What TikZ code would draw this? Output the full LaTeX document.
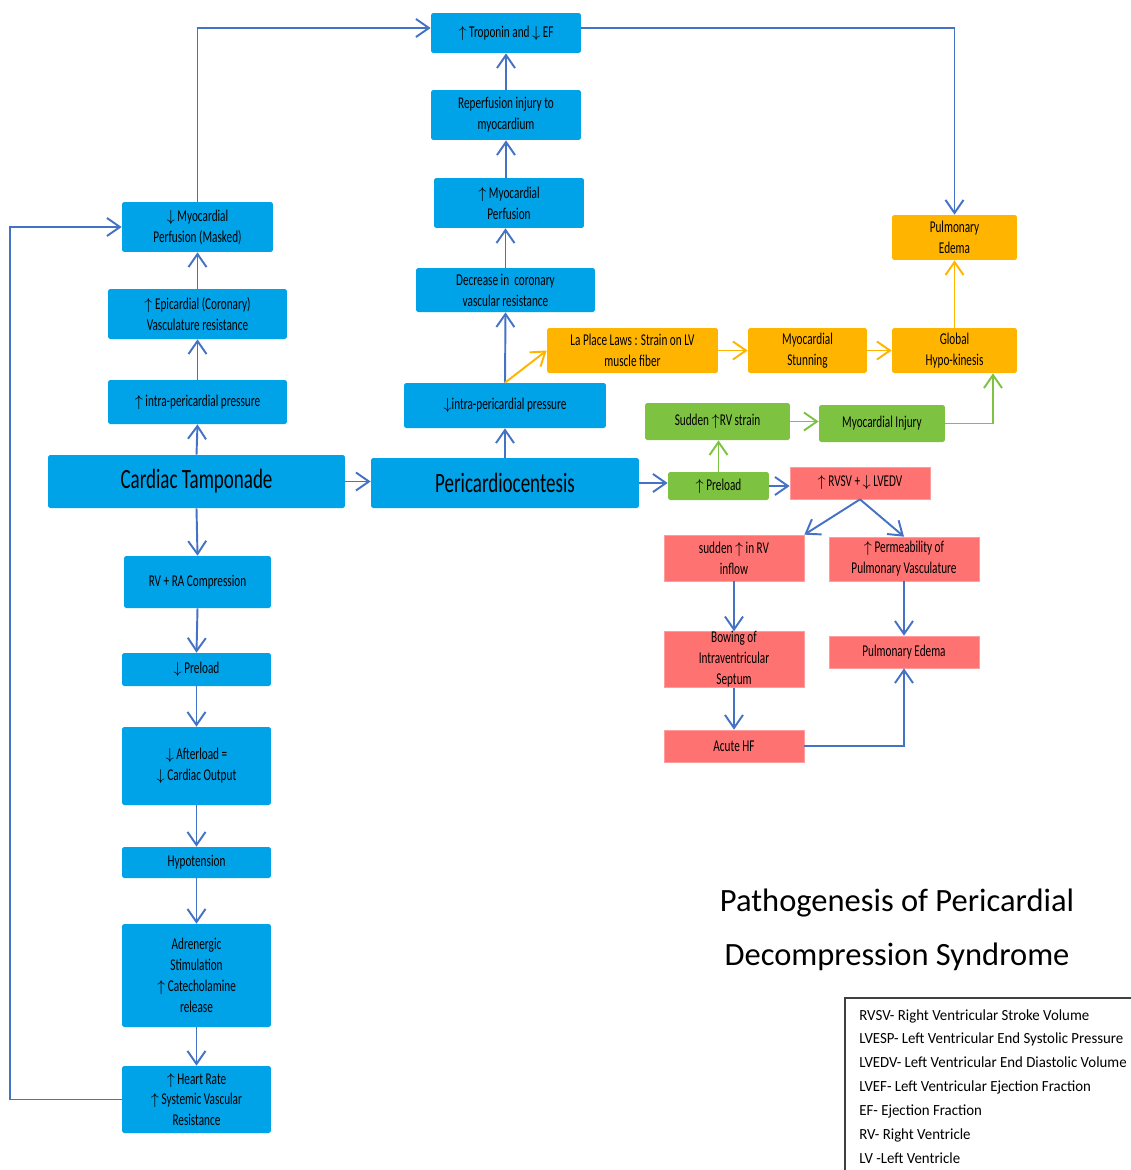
\documentclass[tikz,border=0pt]{standalone}
\usepackage{fontspec}
\setmainfont{Carlito}
\newfontfamily\boxfont{Carlito}[FakeStretch=0.68]
\newfontfamily\keyfont{Carlito}[FakeStretch=0.96]
\usepackage{xcolor}
\usepackage{tikz}
\usetikzlibrary{arrows.meta,positioning,calc}

\definecolor{boxblue}{RGB}{0,162,232}
\definecolor{boxorange}{RGB}{255,180,0}
\definecolor{boxgreen}{RGB}{125,195,65}
\definecolor{boxred}{RGB}{255,114,114}
\definecolor{arrowblue}{RGB}{68,114,196}

\begin{document}
\begin{tikzpicture}[x=0.02cm, y=-0.02cm,
  every node/.style={font=\boxfont\fontsize{9.4}{11.9}\selectfont, align=center, inner sep=0pt},
  bbox/.style={rectangle, rounded corners=1pt, fill=boxblue},
  obox/.style={rectangle, rounded corners=1pt, fill=boxorange},
  gbox/.style={rectangle, rounded corners=1pt, fill=boxgreen},
  rbox/.style={rectangle, fill=boxred, draw=boxred!70!white, line width=0.4pt},
  flow/.style={draw=arrowblue, line width=1.1pt, -{Straight Barb[length=2.6mm,width=3.6mm]}},
  oflow/.style={flow, draw=boxorange},
  gflow/.style={flow, draw=boxgreen}]
\useasboundingbox (0,0) rectangle (1131,1170);

% Left: tamponade column
\node[bbox, minimum width=5.94cm, minimum height=1.06cm, font=\boxfont\fontsize{15.9}{19}\selectfont] (tamp) at (196.5,481.5) {Cardiac Tamponade};
\node[bbox, minimum width=3.58cm, minimum height=0.88cm] (incipp) at (197.5,402) {$\uparrow$ intra-pericardial pressure};
\node[bbox, minimum width=3.58cm, minimum height=1.0cm] (epic) at (197.5,314) {$\uparrow$ Epicardial (Coronary)\\Vasculature resistance};
\node[bbox, minimum width=3.02cm, minimum height=1.0cm] (masked) at (197.5,227) {$\downarrow$ Myocardial\\Perfusion (Masked)};
\node[bbox, minimum width=2.94cm, minimum height=1.04cm] (rvra) at (197.5,582) {RV + RA Compression};
\node[bbox, minimum width=2.98cm, minimum height=0.66cm] (lpre) at (196.5,669.5) {$\downarrow$ Preload};
\node[bbox, minimum width=2.98cm, minimum height=1.56cm] (aftl) at (196.5,766) {$\downarrow$ Afterload =\\$\downarrow$ Cardiac Output};
\node[bbox, minimum width=2.98cm, minimum height=0.62cm] (hypo) at (196.5,862.5) {Hypotension};
\node[bbox, minimum width=2.98cm, minimum height=2.06cm] (adren) at (196.5,975.5) {Adrenergic\\Stimulation\\$\uparrow$ Catecholamine\\release};
\node[bbox, minimum width=2.98cm, minimum height=1.34cm] (hrate) at (196.5,1099.5) {$\uparrow$ Heart Rate\\$\uparrow$ Systemic Vascular\\Resistance};

% Middle: pericardiocentesis column
\node[bbox, minimum width=5.36cm, minimum height=1.0cm, font=\boxfont\fontsize{15.9}{19}\selectfont] (pcent) at (505,483) {Pericardiocentesis};
\node[bbox, minimum width=4.04cm, minimum height=0.9cm] (decipp) at (505,405.5) {$\downarrow$intra-pericardial pressure};
\node[bbox, minimum width=3.58cm, minimum height=0.88cm] (coron) at (505.5,290) {Decrease in\ \ coronary\\vascular resistance};
\node[bbox, minimum width=3.0cm, minimum height=1.0cm] (incmp) at (509,203) {$\uparrow$ Myocardial\\Perfusion};
\node[bbox, minimum width=3.0cm, minimum height=1.0cm] (reperf) at (506,115) {Reperfusion injury to\\myocardium};
\node[bbox, minimum width=3.0cm, minimum height=0.8cm] (trop) at (506,33) {$\uparrow$ Troponin and $\downarrow$ EF};

% Right: orange and green chains
\node[obox, minimum width=3.42cm, minimum height=0.9cm] (laplace) at (632.5,350.5) {La Place Laws : Strain on LV\\muscle fiber};
\node[obox, minimum width=2.38cm, minimum height=0.9cm] (stun) at (807.5,350.5) {Myocardial\\Stunning};
\node[obox, minimum width=2.5cm, minimum height=0.9cm] (hypok) at (954.5,350.5) {Global\\Hypo-kinesis};
\node[obox, minimum width=2.5cm, minimum height=0.9cm] (pedemo) at (954.5,237.5) {Pulmonary\\Edema};
\node[gbox, minimum width=2.9cm, minimum height=0.74cm] (rvstr) at (717.5,421.5) {Sudden $\uparrow$RV strain};
\node[gbox, minimum width=2.52cm, minimum height=0.74cm] (myoinj) at (882,423.5) {Myocardial Injury};
\node[gbox, minimum width=2.02cm, minimum height=0.56cm] (hpre) at (718.5,486) {$\uparrow$ Preload};

% Right: red chain
\node[rbox, minimum width=2.8cm, minimum height=0.64cm] (rvsv) at (860,483) {$\uparrow$ RVSV + $\downarrow$ LVEDV};
\node[rbox, minimum width=2.8cm, minimum height=0.92cm] (inflow) at (734,558) {sudden $\uparrow$ in RV\\inflow};
\node[rbox, minimum width=3.0cm, minimum height=0.88cm] (perm) at (904,559) {$\uparrow$ Permeability of\\Pulmonary Vasculature};
\node[rbox, minimum width=2.8cm, minimum height=1.1cm] (bowing) at (734,659.5) {Bowing of\\Intraventricular\\Septum};
\node[rbox, minimum width=3.0cm, minimum height=0.64cm] (pedemr) at (904,652) {Pulmonary Edema};
\node[rbox, minimum width=2.8cm, minimum height=0.64cm] (ahf) at (734,746) {Acute HF};

% Title and legend
\node[font=\rmfamily\fontsize{18.5}{31}\selectfont] (title) at (897,930) {Pathogenesis of Pericardial\\Decompression Syndrome};
\draw[black!75, line width=0.6pt] (1140,998) -- (845,998) -- (845,1180);
\node[anchor=north west, align=left, font=\keyfont\fontsize{8.8}{13.6}\selectfont] (legend) at (859,1009) {RVSV- Right Ventricular Stroke Volume\\LVESP- Left Ventricular End Systolic Pressure\\LVEDV- Left Ventricular End Diastolic Volume\\LVEF- Left Ventricular Ejection Fraction\\EF- Ejection Fraction\\RV- Right Ventricle\\LV -Left Ventricle};

% Connectors
\draw[flow] (tamp.north) -- (incipp.south);
\draw[flow] (incipp.north) -- (epic.south);
\draw[flow] (epic.north) -- (masked.south);
\draw[flow] (masked.north) |- ([yshift=0.1cm]trop.west);
\draw[flow] (tamp.south) -- (rvra.north);
\draw[flow] (rvra.south) -- (lpre.north);
\draw[flow] (lpre.south) -- (aftl.north);
\draw[flow] (aftl.south) -- (hypo.north);
\draw[flow] (hypo.south) -- (adren.north);
\draw[flow] (adren.south) -- (hrate.north);
\draw[flow] (hrate.west) -- ++(-112,0) |- (masked.west);
\draw[flow] (tamp.east) -- (tamp.east -| pcent.west);
\draw[flow] (pcent.north) -- (decipp.south);
\draw[flow] (decipp.north) -- (coron.south);
\draw[flow] (coron.north) -- (coron.north |- incmp.south);
\draw[flow] (incmp.north -| reperf) -- (reperf.south);
\draw[flow] (reperf.north) -- (trop.south);
\draw[flow] ([yshift=0.1cm]trop.east) -| (pedemo.north);
\draw[oflow] (decipp.north) -- (laplace.west);
\draw[oflow] (laplace.east) -- (stun.west);
\draw[oflow] (stun.east) -- (hypok.west);
\draw[oflow] (hypok.north) -- (pedemo.south);
\draw[flow] (pcent.east) -- (pcent.east -| hpre.west);
\draw[gflow] (hpre.north) -- (hpre.north |- rvstr.south);
\draw[gflow] (rvstr.east) -- (rvstr.east -| myoinj.west);
\draw[gflow] (myoinj.east) -| ([xshift=0.77cm]hypok.south);
\draw[flow] (hpre.east) -- (hpre.east -| rvsv.west);
\draw[flow] (rvsv.south) -- (inflow.north east);
\draw[flow] (rvsv.south) -- (perm.north);
\draw[flow] (inflow.south) -- (bowing.north);
\draw[flow] (bowing.south) -- (ahf.north);
\draw[flow] (perm.south) -- (pedemr.north);
\draw[flow] (ahf.east) -| (pedemr.south);
\end{tikzpicture}
\end{document}
